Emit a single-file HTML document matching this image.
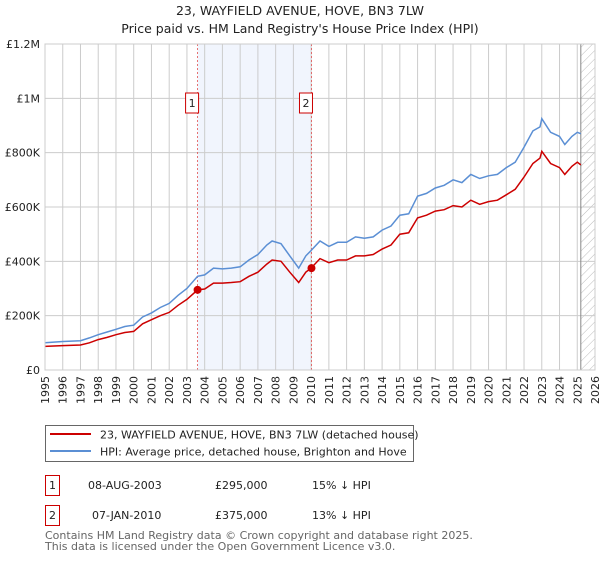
<!DOCTYPE html>
<html><head><meta charset="utf-8"><style>
body{margin:0;background:#fff;font-family:"DejaVu Sans","Liberation Sans",sans-serif;}
svg text{font-family:"DejaVu Sans","Liberation Sans",sans-serif;}
</style></head><body>
<svg id="chart" width="600" height="560" xmlns="http://www.w3.org/2000/svg">
<defs><pattern id="hatch" width="6" height="6" patternUnits="userSpaceOnUse" patternTransform="rotate(45)"><line x1="0" y1="0" x2="0" y2="6" stroke="#bbb" stroke-width="1"/></pattern></defs>
<text x="300" y="15" text-anchor="middle" font-size="12.5" fill="#222">23, WAYFIELD AVENUE, HOVE, BN3 7LW</text>
<text x="300" y="33" text-anchor="middle" font-size="12.5" fill="#222">Price paid vs. HM Land Registry's House Price Index (HPI)</text>
<g id="plot"></g>
<g>
<rect x="45.5" y="425.5" width="368" height="36" fill="#fff" stroke="#666"/>
<line x1="50" y1="434" x2="91" y2="434" stroke="#cc0000" stroke-width="2"/>
<text x="100" y="438.5" font-size="11" fill="#222">23, WAYFIELD AVENUE, HOVE, BN3 7LW (detached house)</text>
<line x1="50" y1="451" x2="91" y2="451" stroke="#5b8fd4" stroke-width="2"/>
<text x="100" y="455.5" font-size="11" fill="#222">HPI: Average price, detached house, Brighton and Hove</text>
</g>
<g font-size="11" fill="#222">
<rect x="45.5" y="475.5" width="14" height="20" fill="#fff" stroke="#cc0000"/>
<text x="52.5" y="489" text-anchor="middle">1</text>
<text x="88" y="489">08-AUG-2003</text><text x="215" y="489">£295,000</text><text x="312" y="489">15% ↓ HPI</text>
<rect x="45.5" y="505.5" width="14" height="20" fill="#fff" stroke="#cc0000"/>
<text x="52.5" y="519" text-anchor="middle">2</text>
<text x="92" y="519">07-JAN-2010</text><text x="215" y="519">£375,000</text><text x="312" y="519">13% ↓ HPI</text>
</g>
<text x="45" y="539" font-size="11" fill="#666">Contains HM Land Registry data © Crown copyright and database right 2025.</text>
<text x="45" y="550" font-size="11" fill="#666">This data is licensed under the Open Government Licence v3.0.</text>
</svg>
<script>
const yTicks=[0,200000,400000,600000,800000,1000000,1200000];
const yTickLabels=["£0","£200K","£400K","£600K","£800K","£1M","£1.2M"];
const years=[1995,1996,1997,1998,1999,2000,2001,2002,2003,2004,2005,2006,2007,2008,2009,2010,2011,2012,2013,2014,2015,2016,2017,2018,2019,2020,2021,2022,2023,2024,2025,2026];
const hpiT=[1995,1996,1997,1997.5,1998,1998.5,1999,1999.5,2000,2000.5,2001,2001.5,2002,2002.5,2003,2003.6,2004,2004.5,2005,2005.5,2006,2006.5,2007,2007.5,2007.8,2008.3,2008.8,2009.3,2009.7,2010,2010.5,2011,2011.5,2012,2012.5,2013,2013.5,2014,2014.5,2015,2015.5,2016,2016.5,2017,2017.5,2018,2018.5,2019,2019.5,2020,2020.5,2021,2021.5,2022,2022.5,2022.9,2023,2023.5,2024,2024.3,2024.7,2025,2025.2];
const hpiV=[100,105,108,118,130,140,150,160,165,195,210,230,245,275,300,345,350,375,372,375,380,405,425,460,475,465,420,375,420,440,475,455,470,470,490,485,490,515,530,570,575,640,650,670,680,700,690,720,705,715,720,745,765,820,880,895,925,875,860,830,860,875,870];
const ppV=[87,90,92,100,112,120,130,138,142,170,185,200,212,238,260,295,298,320,320,322,325,345,360,390,405,400,360,322,360,375,410,395,405,405,420,420,425,445,460,500,505,560,570,585,590,605,600,625,610,620,625,645,665,710,760,780,805,760,745,720,750,765,755];
const sales=[{t:2003.6,v:295000,label:"1"},{t:2010.02,v:375000,label:"2"}];
const X0=45,X1=595,Y0=370,Y1=44;
const xs=t=>X0+(t-1995)/(2026-1995)*(X1-X0);
const ys=v=>Y0-v/1200000*(Y0-Y1);
const NS="http://www.w3.org/2000/svg";
const g=document.getElementById('plot');
function mk(tag,attrs,parent){const e=document.createElementNS(NS,tag);for(const k in attrs)e.setAttribute(k,attrs[k]);(parent||g).appendChild(e);return e;}
let e;
e=mk('rect',{x:xs(sales[0].t),y:Y1,width:xs(sales[1].t)-xs(sales[0].t),height:Y0-Y1,fill:'#eef3fc',opacity:0.8});


e=mk('rect',{x:xs(2025.2),y:Y1,width:X1-xs(2025.2),height:Y0-Y1,fill:'url(#hatch)'});


years.forEach(y=>{
  e=mk('line',{x1:xs(y),x2:xs(y),y1:Y1,y2:Y0,stroke:'#ccc','stroke-width':1});
  
  
  e=mk('text',{x:0,y:0,'font-size':11,fill:'#222','text-anchor':'end',transform:`translate(${xs(y)+4},${Y0+6}) rotate(-90)`});
  e.textContent=y;
  
  
});
yTicks.forEach((v,i)=>{
  e=mk('line',{x1:X0,x2:X1,y1:ys(v),y2:ys(v),stroke:'#ccc','stroke-width':1});
  
  
  e=mk('text',{x:X0-5,y:ys(v)+4,'font-size':11,fill:'#222','text-anchor':'end'});
  e.textContent=yTickLabels[i];
  
  
});
e=mk('line',{x1:xs(2025.2),x2:xs(2025.2),y1:Y1,y2:Y0,stroke:'#888','stroke-width':1});


sales.forEach(s=>{
  e=mk('line',{x1:xs(s.t),x2:xs(s.t),y1:Y1,y2:Y0,stroke:'#e05050','stroke-width':0.8,'stroke-dasharray':'2,2'});
  
  
});
function path(vals,color,name){
  const d=hpiT.map((t,i)=>(i?'L':'M')+xs(t).toFixed(1)+','+ys(vals[i]*1000).toFixed(1)).join('');
  e=mk('path',{d:d,fill:'none',stroke:color,'stroke-width':1.5});
  
  
}
path(hpiV,'#5b8fd4','hpi-line');
path(ppV,'#cc0000','price-paid-line');
sales.forEach(s=>{
  e=mk('circle',{cx:xs(s.t),cy:ys(s.v),r:4,fill:'#cc0000'});
  
  
  e=mk('rect',{x:xs(s.t)-12,y:93,width:13,height:20,fill:'#fff',stroke:'#cc0000'});
  
  
  e=mk('text',{x:xs(s.t)-5.5,y:107,'font-size':11,fill:'#222','text-anchor':'middle'});
  e.textContent=s.label;
  
  
});
e=mk('rect',{x:X0,y:Y1,width:X1-X0,height:Y0-Y1,fill:'none',stroke:'#ccc'});


</script>
</body></html>
